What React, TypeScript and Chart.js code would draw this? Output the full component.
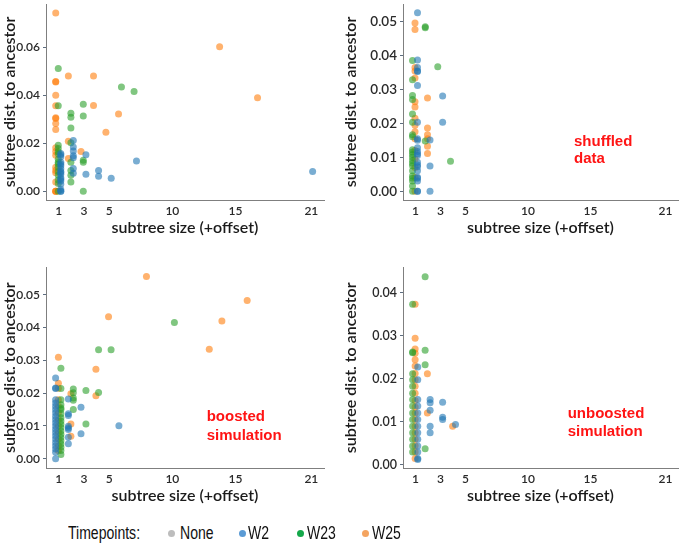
import React, { useEffect, useRef } from "react";
import { Chart, registerables } from "chart.js";

Chart.register(...registerables);

type Pt = [number, number];

// Shared x-axis ticks (subtree size, with a small per-timepoint offset on each point)
const sizeTicks = [1, 3, 5, 10, 15, 21];

// Tick values for the distance axis of each panel
const obsDistTicks = [0, 0.02, 0.04, 0.06];
const shufDistTicks = [0, 0.01, 0.02, 0.03, 0.04, 0.05];
const boostDistTicks = [0, 0.01, 0.02, 0.03, 0.04, 0.05];
const unboostDistTicks = [0, 0.01, 0.02, 0.03, 0.04];

// ---- Observed data ----
const obsW2: Pt[] = [
  [1.17, 0.0158], [1.17, 0.0152], [1.17, 0.0144], [1.17, 0.0121], [1.17, 0.0114],
  [1.17, 0.0107], [1.17, 0.0094], [1.17, 0.0083], [1.17, 0.0079], [1.17, 0.0071],
  [1.17, 0.0057], [1.17, 0.005], [1.17, 0.0043], [1.17, 0.003], [1.17, 0.0008],
  [1.17, 0.0], [1.17, 0.0],
  [2.16, 0.0212], [2.16, 0.0185], [2.16, 0.0168], [2.16, 0.0148], [2.16, 0.014],
  [2.16, 0.0095], [2.16, 0.0075],
  [3.16, 0.0152], [3.16, 0.0071],
  [4.16, 0.0087], [4.16, 0.0063],
  [5.16, 0.0055], [7.16, 0.0126], [21.1, 0.0083],
];
const obsW23: Pt[] = [
  [0.97, 0.0511], [0.97, 0.0356],
  [0.97, 0.0192], [0.97, 0.0178], [0.97, 0.0165], [0.97, 0.0155], [0.97, 0.0134],
  [0.97, 0.0121], [0.97, 0.0114], [0.97, 0.01], [0.97, 0.0083], [0.97, 0.0067],
  [0.97, 0.0047], [0.97, 0.0033], [0.97, 0.0],
  [1.97, 0.0325], [1.97, 0.0309], [1.97, 0.0264], [1.97, 0.0202], [1.97, 0.0121],
  [1.97, 0.0087], [1.97, 0.0067], [1.97, 0.0039],
  [2.95, 0.0363], [2.95, 0.0314], [2.95, 0.0129], [2.95, 0.0121], [2.95, 0.0],
  [5.97, 0.0434], [6.97, 0.0416],
];
const obsW25: Pt[] = [
  [0.77, 0.0743], [0.77, 0.0457], [0.77, 0.0455], [0.77, 0.04], [0.77, 0.0356],
  [0.77, 0.0306], [0.77, 0.0303], [0.77, 0.0283], [0.77, 0.0257], [0.77, 0.0182],
  [0.77, 0.0166], [0.77, 0.015], [0.77, 0.01], [0.77, 0.0087], [0.77, 0.0077],
  [0.77, 0.0039], [0.77, 0.0], [0.77, 0.0], [0.77, 0.0],
  [1.77, 0.048], [1.77, 0.0209], [1.77, 0.0137],
  [2.77, 0.0166],
  [3.76, 0.048], [3.76, 0.0357],
  [4.74, 0.0246], [5.74, 0.0322],
  [13.74, 0.0602], [16.74, 0.039],
];

// ---- Shuffled data ----
const shufW2: Pt[] = [
  [1.16, 0.0525], [1.16, 0.0386], [1.16, 0.0364], [1.16, 0.0354], [1.16, 0.0352],
  [1.16, 0.0311], [1.16, 0.0203], [1.16, 0.0154], [1.16, 0.015], [1.16, 0.0128],
  [1.16, 0.0117], [1.16, 0.011], [1.16, 0.0105], [1.16, 0.0085], [1.16, 0.0077],
  [1.16, 0.0072], [1.16, 0.006], [1.16, 0.0041], [1.16, 0.0038], [1.16, 0.003],
  [1.16, 0.0], [1.16, 0.0],
  [2.16, 0.0151], [2.16, 0.0074], [2.16, 0.0],
  [3.17, 0.028], [3.17, 0.0203],
];
const shufW23: Pt[] = [
  [0.76, 0.0385], [0.76, 0.0328], [0.76, 0.0282], [0.76, 0.027], [0.76, 0.0227],
  [0.76, 0.0203], [0.76, 0.0166], [0.76, 0.016], [0.76, 0.0122], [0.76, 0.0115],
  [0.76, 0.0108], [0.76, 0.01], [0.76, 0.009], [0.76, 0.0082], [0.76, 0.0075],
  [0.76, 0.006], [0.76, 0.0045], [0.76, 0.0038], [0.76, 0.003], [0.76, 0.0015],
  [0.76, 0.0],
  [1.78, 0.0484], [1.78, 0.0481], [1.78, 0.0148],
  [2.78, 0.0366], [3.8, 0.0088],
];
const shufW25: Pt[] = [
  [0.96, 0.0495], [0.96, 0.0476], [0.96, 0.0364], [0.96, 0.0354], [0.96, 0.0333],
  [0.96, 0.0263], [0.96, 0.0248], [0.96, 0.0215], [0.96, 0.0194], [0.96, 0.0175],
  [0.96, 0.0154], [0.96, 0.012], [0.96, 0.0095], [0.96, 0.007], [0.96, 0.004],
  [0.96, 0.0],
  [1.96, 0.0274], [1.96, 0.0186], [1.96, 0.0166], [1.96, 0.0154], [1.96, 0.0132],
  [1.96, 0.0111],
];

// ---- Boosted simulation ----
const boostW2: Pt[] = [
  [0.76, 0.0246], [0.76, 0.0216], [0.76, 0.0214],
  [0.76, 0.018], [0.76, 0.017], [0.76, 0.016], [0.76, 0.015], [0.76, 0.014],
  [0.76, 0.013], [0.76, 0.012], [0.76, 0.011], [0.76, 0.01], [0.76, 0.009],
  [0.76, 0.008], [0.76, 0.007], [0.76, 0.006], [0.76, 0.005], [0.76, 0.004],
  [0.76, 0.003], [0.76, 0.002], [0.76, 0.0],
  [1.77, 0.0182], [1.77, 0.0137], [1.77, 0.0132], [1.77, 0.0099], [1.77, 0.0094],
  [1.77, 0.0089], [1.77, 0.0066], [1.77, 0.0046],
  [2.77, 0.0157], [2.77, 0.0076],
  [5.77, 0.0101],
];
const boostW23: Pt[] = [
  [1.18, 0.0276], [1.18, 0.0214],
  [1.18, 0.018], [1.18, 0.0165], [1.18, 0.0155], [1.18, 0.015], [1.18, 0.0137],
  [1.18, 0.0125], [1.18, 0.0115], [1.18, 0.0105], [1.18, 0.0095], [1.18, 0.0085],
  [1.18, 0.0075], [1.18, 0.0065], [1.18, 0.0055], [1.18, 0.0045], [1.18, 0.0035],
  [1.18, 0.0025], [1.18, 0.0013],
  [2.16, 0.0213], [2.16, 0.0201], [2.16, 0.0185], [2.16, 0.0178], [2.16, 0.015],
  [3.16, 0.0208], [3.16, 0.0106],
  [4.16, 0.0332], [4.16, 0.0202],
  [5.15, 0.0332], [10.16, 0.0415],
];
const boostW25: Pt[] = [
  [0.98, 0.0309], [0.98, 0.023], [0.98, 0.0215], [0.98, 0.018], [0.98, 0.016],
  [0.98, 0.014], [0.98, 0.012], [0.98, 0.01], [0.98, 0.008], [0.98, 0.006],
  [0.98, 0.004], [0.98, 0.0025],
  [1.97, 0.0198], [1.97, 0.0106], [1.97, 0.0069],
  [3.95, 0.0273], [3.95, 0.0192],
  [4.95, 0.0433], [7.95, 0.0555], [12.92, 0.0334], [13.92, 0.042], [15.92, 0.0482],
];

// ---- Unboosted simulation ----
const unboostW2: Pt[] = [
  [1.18, 0.0228], [1.18, 0.0198], [1.18, 0.0152], [1.18, 0.0137], [1.18, 0.0121],
  [1.18, 0.0106], [1.18, 0.009], [1.18, 0.0075], [1.18, 0.006], [1.18, 0.0044],
  [1.18, 0.003], [1.18, 0.0015], [1.18, 0.0013],
  [2.17, 0.0152], [2.17, 0.0145], [2.17, 0.0127], [2.17, 0.009], [2.17, 0.0075],
  [3.17, 0.0146], [3.17, 0.0111], [3.17, 0.0106],
  [4.2, 0.0094],
];
const unboostW23: Pt[] = [
  [0.77, 0.0374], [0.77, 0.0263], [0.77, 0.0261], [0.77, 0.0212], [0.77, 0.0198],
  [0.77, 0.0183], [0.77, 0.0167], [0.77, 0.0152], [0.77, 0.0137], [0.77, 0.0121],
  [0.77, 0.0106], [0.77, 0.009], [0.77, 0.0075], [0.77, 0.006], [0.77, 0.0044],
  [0.77, 0.003],
  [1.77, 0.0438], [1.77, 0.0267], [1.77, 0.0233], [1.77, 0.0038],
];
const unboostW25: Pt[] = [
  [0.97, 0.0374], [0.97, 0.0295], [0.97, 0.027], [0.97, 0.026], [0.97, 0.0245],
  [0.97, 0.023], [0.97, 0.0213], [0.97, 0.0198], [0.97, 0.0183], [0.97, 0.0167],
  [0.97, 0.015], [0.97, 0.0135], [0.97, 0.0121], [0.97, 0.0106], [0.97, 0.009],
  [0.97, 0.0075], [0.97, 0.006], [0.97, 0.0045], [0.97, 0.003], [0.97, 0.0015],
  [1.95, 0.0212], [1.95, 0.0121],
  [3.97, 0.009],
];

const W2_FILL = "rgba(31,119,180,0.6)";
const W23_FILL = "rgba(44,160,44,0.6)";
const W25_FILL = "rgba(255,127,14,0.6)";

const FAMILY = "Lato, 'Open Sans', sans-serif";
const titleFont = { family: FAMILY, size: 16, weight: "600" };

interface PanelProps {
  left: number;
  top: number;
  width: number;
  height: number;
  yAxisWidth: number;
  yTickSize: number;
  padTop: number;
  padRight: number;
  yMin: number;
  yMax: number;
  yTicks: number[];
  w2: Pt[];
  w23: Pt[];
  w25: Pt[];
}

function toXY(pts: Pt[]) {
  return pts.map(([x, y]) => ({ x, y }));
}

function Panel(p: PanelProps) {
  const ref = useRef<HTMLCanvasElement | null>(null);

  useEffect(() => {
    if (!ref.current) return;
    const pointStyle = { borderWidth: 0, pointRadius: 3.5 };
    const chart = new Chart(ref.current, {
      type: "scatter",
      data: {
        datasets: [
          { label: "W2", data: toXY(p.w2), backgroundColor: W2_FILL, ...pointStyle },
          { label: "W23", data: toXY(p.w23), backgroundColor: W23_FILL, ...pointStyle },
          { label: "W25", data: toXY(p.w25), backgroundColor: W25_FILL, ...pointStyle },
        ],
      },
      options: {
        animation: false,
        responsive: false,
        events: [],
        layout: { padding: { left: 0, top: p.padTop, right: p.padRight, bottom: 0 } },
        plugins: { legend: { display: false }, tooltip: { enabled: false } },
        scales: {
          x: {
            type: "linear",
            min: 0,
            max: 22,
            afterBuildTicks: (s: any) => {
              s.ticks = sizeTicks.map((v) => ({ value: v }));
            },
            afterFit: (s: any) => {
              s.height = 45;
              s.paddingLeft = 0;
              s.paddingRight = 0;
            },
            grid: { display: false, drawTicks: false },
            border: { display: true, color: "#7f7f7f", width: 1 },
            ticks: {
              font: { family: FAMILY, size: 12, weight: "600" },
              color: "#2a2a2a",
              padding: 4,
              maxRotation: 0,
              autoSkip: false,
              callback: (v: any) => String(v),
            },
            title: {
              display: true,
              text: "subtree size (+offset)",
              font: titleFont,
              color: "#1a1a1a",
              padding: { top: 0, bottom: 8 },
            },
          },
          y: {
            type: "linear",
            min: p.yMin,
            max: p.yMax,
            afterBuildTicks: (s: any) => {
              s.ticks = p.yTicks.map((v) => ({ value: v }));
            },
            afterFit: (s: any) => {
              s.width = p.yAxisWidth;
              s.paddingTop = 0;
              s.paddingBottom = 0;
            },
            grid: {
              display: true,
              drawOnChartArea: false,
              drawTicks: true,
              tickLength: 3,
              color: "#5d6d80",
            },
            border: { display: true, color: "#7f7f7f", width: 1 },
            ticks: {
              font: { family: FAMILY, size: p.yTickSize, weight: "600" },
              color: "#2a2a2a",
              padding: 3,
              autoSkip: false,
              callback: (v: any) => Number(v).toFixed(2),
            },
            title: {
              display: true,
              text: "subtree dist. to ancestor",
              font: titleFont,
              color: "#1a1a1a",
              padding: 0,
            },
          },
        },
      },
    } as any);
    return () => chart.destroy();
  }, []);

  return (
    <div style={{ position: "absolute", left: p.left, top: p.top, width: p.width, height: p.height }}>
      <canvas ref={ref} width={p.width} height={p.height} style={{ display: "block" }} />
    </div>
  );
}

const noteStyle: React.CSSProperties = {
  position: "absolute",
  fontFamily: "'Liberation Sans', Arial, sans-serif",
  fontWeight: "bold",
  fontSize: 15,
  color: "#ff1414",
  whiteSpace: "nowrap",
};

const legendText: React.CSSProperties = {
  position: "absolute",
  top: 522.5,
  fontFamily: "'Liberation Sans', Arial, sans-serif",
  fontSize: 18,
  lineHeight: "20px",
  color: "#111111",
  transform: "scaleX(0.78)",
  transformOrigin: "left center",
  whiteSpace: "nowrap",
};

function Dot({ cx, color }: { cx: number; color: string }) {
  return (
    <div
      style={{
        position: "absolute",
        left: cx - 3.5,
        top: 533.3 - 3.5,
        width: 7,
        height: 7,
        borderRadius: "50%",
        background: color,
      }}
    />
  );
}

export default function App() {
  return (
    <div style={{ position: "absolute", left: 0, top: 0, width: 682, height: 544, background: "#ffffff", overflow: "hidden" }}>
      <Panel left={0} top={0} width={341} height={245} yAxisWidth={46} yTickSize={12} padTop={0} padRight={17}
        yMin={-0.0036} yMax={0.078} yTicks={obsDistTicks} w2={obsW2} w23={obsW23} w25={obsW25} />
      <Panel left={341} top={0} width={341} height={245} yAxisWidth={62} yTickSize={13.5} padTop={0} padRight={1}
        yMin={-0.0026} yMax={0.0551} yTicks={shufDistTicks} w2={shufW2} w23={shufW23} w25={shufW25} />
      <Panel left={0} top={255} width={341} height={258} yAxisWidth={46} yTickSize={12} padTop={12.4} padRight={17}
        yMin={-0.0028} yMax={0.0583} yTicks={boostDistTicks} w2={boostW2} w23={boostW23} w25={boostW25} />
      <Panel left={341} top={255} width={341} height={258} yAxisWidth={62} yTickSize={12.5} padTop={12.6} padRight={1}
        yMin={-0.0007} yMax={0.0459} yTicks={unboostDistTicks} w2={unboostW2} w23={unboostW23} w25={unboostW25} />

      <div style={{ ...noteStyle, left: 574, top: 131.7, lineHeight: "17.6px" }}>shuffled<br />data</div>
      <div style={{ ...noteStyle, left: 206.7, top: 405.9, lineHeight: "19.3px" }}>boosted<br />simulation</div>
      <div style={{ ...noteStyle, left: 567.7, top: 403.9, lineHeight: "18.4px" }}>unboosted<br />simulation</div>

      <div style={{ ...legendText, left: 68 }}>Timepoints:</div>
      <Dot cx={171} color="#bdbdbd" />
      <div style={{ ...legendText, left: 180 }}>None</div>
      <Dot cx={242} color="#5b9bd5" />
      <div style={{ ...legendText, left: 248 }}>W2</div>
      <Dot cx={300} color="#14a84a" />
      <div style={{ ...legendText, left: 307 }}>W23</div>
      <Dot cx={365} color="#f4a460" />
      <div style={{ ...legendText, left: 372 }}>W25</div>
    </div>
  );
}
